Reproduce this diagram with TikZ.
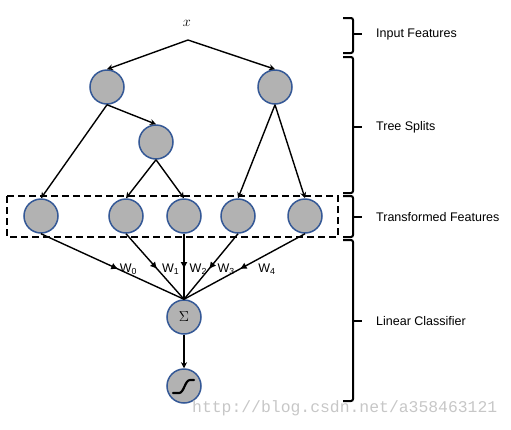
\documentclass[tikz,border=0pt]{standalone}
\usepackage{fontspec}
\setmainfont{Liberation Sans}
\newfontfamily\wmfont{Liberation Mono}
\usetikzlibrary{arrows.meta,decorations.markings}
\definecolor{rimblue}{RGB}{52,88,150}
\definecolor{cellgray}{RGB}{178,178,178}
\tikzset{
  cell/.style={circle,draw=rimblue,fill=cellgray,line width=1.5pt,minimum size=34pt,inner sep=0pt},
  split/.style={-{Stealth[length=6pt,width=6pt]},line width=1.4pt},
  weight/.style={line width=1.4pt,postaction={decorate},
    decoration={markings,mark=at position 0.54 with {\arrow{Latex[length=7pt,width=7pt]}}}},
  tag/.style={font=\fontsize{12.5}{14}\selectfont,anchor=west,inner sep=0pt},
  wlab/.style={font=\fontsize{12.5}{14}\selectfont,anchor=west,inner sep=1pt},
  sym/.style={font=\fontsize{15}{16}\selectfont},
}
\begin{document}
\begin{tikzpicture}[x=1pt,y=-1pt]
  \useasboundingbox (0,0) rectangle (511,429);
  % tree
  \node[sym] (x) at (187,23) {$x$};
  \coordinate (root) at (188,40);
  \node[cell] (l1) at (107,87) {};
  \node[cell] (r1) at (275,87) {};
  \node[cell] (m) at (156,142) {};
  \foreach \i/\xx in {0/41,1/126,2/184,3/238,4/305}
    \node[cell] (b\i) at (\xx,216) {};
  \draw[split] (root) -- (l1.north);
  \draw[split] (root) -- (r1.north);
  \draw[split] (l1.south) -- (m.north);
  \draw[split] (l1.south) -- (b0.north);
  \draw[split] (m.south) -- (b1.north);
  \draw[split] (m.south) -- (b2.north);
  \draw[split] (r1.south) -- (b3.north);
  \draw[split] (r1.south) -- (b4.north);
  \draw[line width=1.6pt,dash pattern=on 7pt off 4pt] (7,196) rectangle (338,237);
  % classifier
  \node[cell,sym] (sum) at (184,317) {$\Sigma$};
  \node[cell] (sig) at (184,386) {};
  \draw[line width=2.2pt,line cap=round]
    ([shift={(-11,7)}]sig.center) -- ([shift={(-5,7)}]sig.center)
    .. controls ([shift={(0,7)}]sig.center) and ([shift={(1,-6)}]sig.center) .. ([shift={(6,-6)}]sig.center)
    -- ([shift={(10,-6)}]sig.center);
  \foreach \i/\dx in {0/0,1/3,2/4,3/7,4/17}
    \draw[weight] (b\i.south) -- (sum.north)
      node[pos=0.54,wlab,xshift=\dx pt] (w\i) {W\textsubscript{\i}};
  \draw[split] (sum.south) -- (sig.north);
  % braces
  \foreach \t/\b/\m/\n/\s in {18/53/34/inp/Input Features,57/193/127/tree/Tree Splits,
      196/237/217/trans/Transformed Features,240/401/321/lin/Linear Classifier}{
    \draw[line width=2pt,rounded corners=2pt] (343,\t) -- (353,\t) -- (353,\b) -- (343,\b);
    \draw[line width=2pt] (353,\m) -- (362,\m);
    \node[tag] (\n) at (376,\m) {\s};
  }
  \node[font=\wmfont\fontsize{16.4}{18}\selectfont,text=black!22,anchor=west,inner sep=0pt] (wm)
    at (192,408) {http://blog.csdn.net/a358463121};
\end{tikzpicture}
\end{document}
